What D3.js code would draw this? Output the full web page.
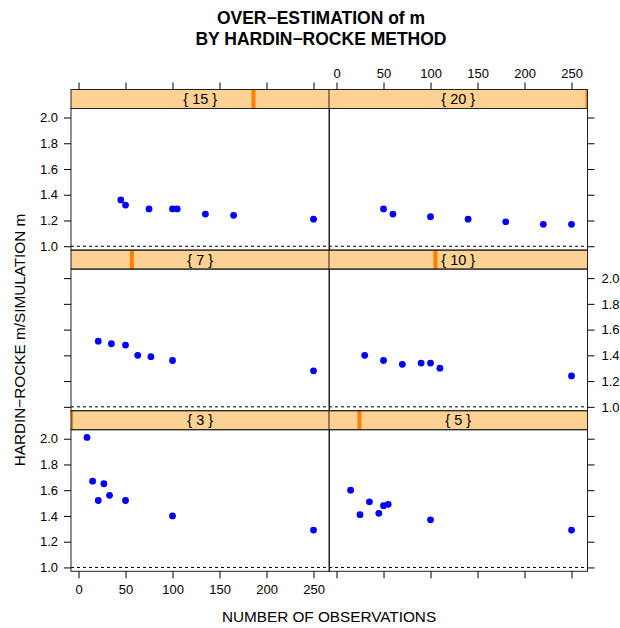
<!DOCTYPE html>
<html>
<head>
<meta charset="utf-8">
<script src="https://cdn.jsdelivr.net/npm/d3@7"></script>
<style>
  body { margin: 0; background: #fff; }
  text { font-family: "Liberation Sans", Arial, sans-serif; fill: #000; }
</style>
</head>
<body>
<svg width="620" height="628"></svg>
<script>
// conditioning levels (m), panel order: bottom-left, bottom-right, middle-left, ...
var levels = [3, 5, 7, 10, 15, 20];
var obs3  = [9, 15, 21, 27, 33, 50, 100, 250];
var ratio3 = [2.01, 1.67, 1.52, 1.65, 1.56, 1.52, 1.40, 1.29];
var obs5  = [15, 25, 35, 45, 50, 55, 100, 250];
var ratio5 = [1.60, 1.41, 1.51, 1.42, 1.48, 1.49, 1.37, 1.29];
var obs7  = [21, 35, 50, 63, 77, 100, 250];
var ratio7 = [1.51, 1.49, 1.48, 1.40, 1.39, 1.36, 1.28];
var obs10 = [30, 50, 70, 90, 100, 110, 250];
var ratio10 = [1.40, 1.36, 1.33, 1.34, 1.34, 1.30, 1.24];
var obs15 = [45, 50, 75, 100, 105, 135, 165, 250];
var ratio15 = [1.36, 1.32, 1.29, 1.29, 1.29, 1.25, 1.24, 1.21];
var obs20 = [50, 60, 100, 140, 180, 220, 250];
var ratio20 = [1.29, 1.25, 1.23, 1.21, 1.19, 1.17, 1.17];
var xTicks = [0, 50, 100, 150, 200, 250];
var yTicks = [1.0, 1.2, 1.4, 1.6, 1.8, 2.0];

var panels = [
  {m: 3, x: obs3, y: ratio3},
  {m: 5, x: obs5, y: ratio5},
  {m: 7, x: obs7, y: ratio7},
  {m: 10, x: obs10, y: ratio10},
  {m: 15, x: obs15, y: ratio15},
  {m: 20, x: obs20, y: ratio20}
];

var svg = d3.select("svg");
var colX = [71, 329], colW = 258.5;
var top0 = 89.5, rowH = 160.6, stripH = 19, panelH = rowH - stripH;

var lvl = d3.scaleLinear().domain([d3.min(levels), d3.max(levels)]);

panels.forEach(function(p, i){
    var col = i % 2, row = 2 - Math.floor(i / 2);
    var x0 = colX[col], sTop = top0 + row * rowH, pTop = sTop + stripH, pBot = pTop + panelH;
    var x = d3.scaleLinear().domain([-8, 267]).range([x0, x0 + colW]);
    var y = d3.scaleLinear().domain([0.97, 2.07]).range([pBot, pTop]);
    var g = svg.append("g");
    var clipId = "clip" + i;
    g.append("clipPath").attr("id", clipId).append("rect")
        .attr("x", x0).attr("y", sTop).attr("width", colW).attr("height", stripH);

    // strip
    g.append("rect").attr("x", x0).attr("y", sTop).attr("width", colW).attr("height", stripH)
        .attr("fill", "#ffd294");
    lvl.range([x0, x0 + colW]);
    g.append("rect").attr("clip-path", "url(#" + clipId + ")")
        .attr("x", lvl(p.m) - 2).attr("y", sTop).attr("width", 4).attr("height", stripH)
        .attr("fill", "#ff7f00");
    g.append("rect").attr("x", x0).attr("y", sTop).attr("width", colW).attr("height", stripH)
        .attr("fill", "none").attr("stroke", "#222").attr("stroke-width", 1);
    g.append("text").attr("x", x0 + colW / 2).attr("y", sTop + 14.5)
        .attr("text-anchor", "middle").attr("font-size", 14.5).text("{ " + p.m + " }");

    // reference line
    g.append("line").attr("x1", x0).attr("x2", x0 + colW).attr("y1", y(1)).attr("y2", y(1))
        .attr("stroke", "#000").attr("stroke-dasharray", "3,3");

    // points
    g.selectAll("circle").data(p.x).enter().append("circle")
        .attr("cx", function(d){ return x(d); })
        .attr("cy", function(d, k){ return y(p.y[k]); })
        .attr("r", 3.4).attr("fill", "#0000ff");

    g.append("rect").attr("x", x0).attr("y", pTop).attr("width", colW).attr("height", panelH)
        .attr("fill", "none").attr("stroke", "#222").attr("stroke-width", 1);

    // y axes
    var showLeft = (row !== 1), showRight = (row === 1);
    if (col === 0) {
        var ax = svg.append("g").attr("transform", "translate(" + x0 + ",0)")
            .call(d3.axisLeft(y).tickValues(yTicks).tickSize(7).tickPadding(6)
                .tickFormat(showLeft ? d3.format(".1f") : ""));
        ax.select(".domain").remove();
        ax.selectAll("text").attr("font-size", 13).attr("font-family", null);
    } else {
        var ax2 = svg.append("g").attr("transform", "translate(" + (x0 + colW) + ",0)")
            .call(d3.axisRight(y).tickValues(yTicks).tickSize(7).tickPadding(7)
                .tickFormat(showRight ? d3.format(".1f") : ""));
        ax2.select(".domain").remove();
        ax2.selectAll("text").attr("font-size", 13).attr("font-family", null);
    }

    // x axes
    if (row === 0) {
        var at = svg.append("g").attr("transform", "translate(0," + sTop + ")")
            .call(d3.axisTop(x).tickValues(xTicks).tickSize(7).tickPadding(5)
                .tickFormat(col === 1 ? d3.format("d") : ""));
        at.select(".domain").remove();
        at.selectAll("text").attr("font-size", 13).attr("font-family", null);
    }
    if (row === 2) {
        var ab = svg.append("g").attr("transform", "translate(0," + pBot + ")")
            .call(d3.axisBottom(x).tickValues(xTicks).tickSize(7).tickPadding(6)
                .tickFormat(col === 0 ? d3.format("d") : ""));
        ab.select(".domain").remove();
        ab.selectAll("text").attr("font-size", 13).attr("font-family", null);
    }
});

svg.append("text").attr("x", 321).attr("y", 24).attr("text-anchor", "middle")
    .attr("font-size", 17.5).attr("font-weight", "bold").text("OVER\u2212ESTIMATION of m");
svg.append("text").attr("x", 321).attr("y", 45).attr("text-anchor", "middle")
    .attr("font-size", 17.5).attr("font-weight", "bold").text("BY HARDIN\u2212ROCKE METHOD");
svg.append("text").attr("x", 329).attr("y", 621.5).attr("text-anchor", "middle")
    .attr("font-size", 15.3).text("NUMBER OF OBSERVATIONS");
svg.append("text").attr("transform", "translate(25,340) rotate(-90)").attr("text-anchor", "middle")
    .attr("font-size", 15.3).text("HARDIN\u2212ROCKE m/SIMULATION m");
</script>
</body>
</html>
